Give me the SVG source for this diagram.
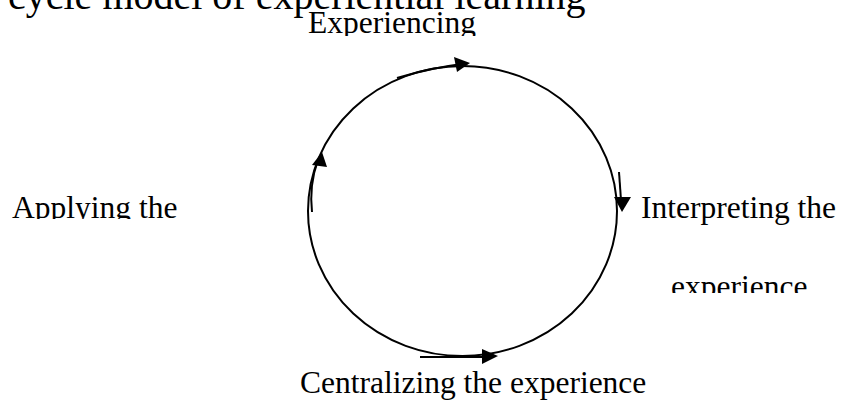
<svg xmlns="http://www.w3.org/2000/svg" width="842" height="403" viewBox="0 0 842 403">
<style>
.t{font-family:"Liberation Serif","Times New Roman",serif;fill:#000;font-size:31.5px}
.ln{fill:none;stroke:#000;stroke-width:2}
.ah{fill:#000;stroke:none}
</style>
<defs>
<clipPath id="cExp"><rect x="0" y="0" width="842" height="36"/></clipPath>
<clipPath id="cApp"><rect x="0" y="150" width="300" height="69"/></clipPath>
<clipPath id="cExp2"><rect x="600" y="240" width="242" height="53"/></clipPath>
</defs>
<rect width="842" height="403" fill="#fff"/>
<g id="title"><text class="t" x="8" y="9" style="font-size:40px">cycle model of experiential learning</text></g>
<g id="connectors">
<ellipse class="ln" cx="462.5" cy="211" rx="154.5" ry="145"/>
<path class="ln" d="M397,78 Q430,68 462,64"/>
<polygon class="ah" points="470,63 454,57 457,72"/>
<path class="ln" d="M619,172 L621,200"/>
<polygon class="ah" points="622,212 614,197 631,197"/>
<path class="ln" d="M420,357 L485,357"/>
<polygon class="ah" points="498,356 482,349 482,364"/>
<path class="ln" d="M312,212 Q309,185 318,160"/>
<polygon class="ah" points="322,152 312,165 327,167"/>
</g>
<g id="n-experiencing" clip-path="url(#cExp)"><text class="t" x="308" y="33">Experiencing</text></g>
<g id="n-interpreting"><text class="t" x="641" y="218">Interpreting the</text>
<text class="t" x="671" y="297" clip-path="url(#cExp2)">experience</text></g>
<g id="n-centralizing"><text class="t" x="300" y="393">Centralizing the experience</text></g>
<g id="n-applying" clip-path="url(#cApp)"><text class="t" x="12" y="218">Applying the</text></g>
</svg>
